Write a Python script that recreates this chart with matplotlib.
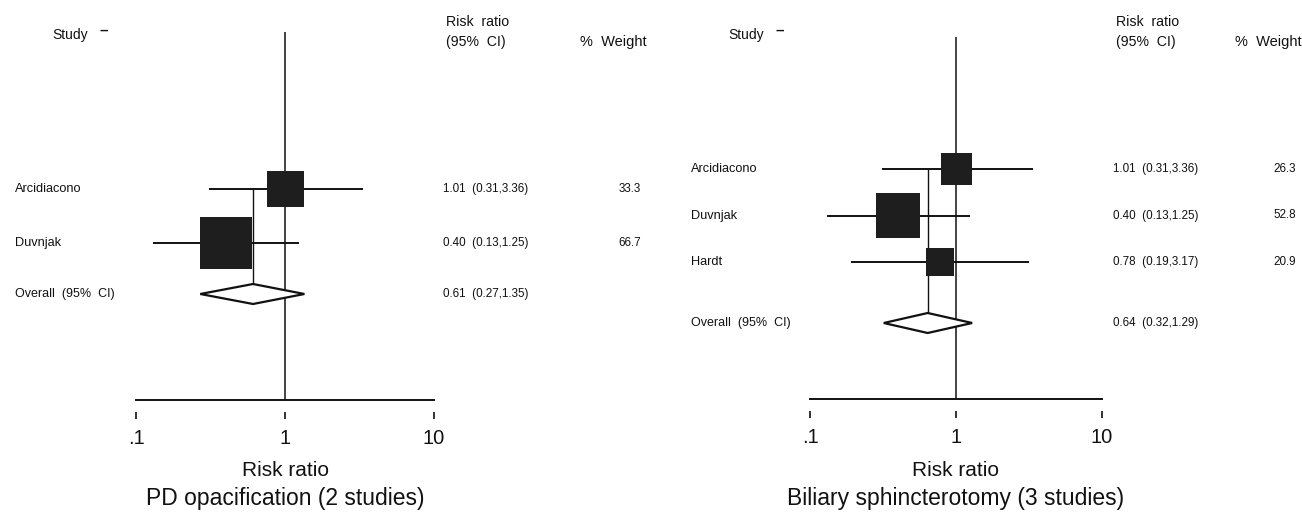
import matplotlib
matplotlib.use("Agg")
import matplotlib.pyplot as plt
from matplotlib.patches import Polygon
from matplotlib.ticker import FixedLocator, FixedFormatter, NullLocator
from matplotlib.transforms import blended_transform_factory

plt.rcParams['font.family'] = ['Liberation Sans', 'DejaVu Sans']

# --- data: PD opacification ---
pd_studies = ["Arcidiacono", "Duvnjak"]
pd_rr = [1.01, 0.40]
pd_lo = [0.31, 0.13]
pd_hi = [3.36, 1.25]
pd_weight = [33.3, 66.7]
pd_overall = [0.61, 0.27, 1.35]
pd_title = "PD opacification (2 studies)"

# --- data: biliary sphincterotomy ---
bs_studies = ["Arcidiacono", "Duvnjak", "Hardt"]
bs_rr = [1.01, 0.40, 0.78]
bs_lo = [0.31, 0.13, 0.19]
bs_hi = [3.36, 1.25, 3.17]
bs_weight = [26.3, 52.8, 20.9]
bs_overall = [0.64, 0.32, 1.29]
bs_title = "Biliary sphincterotomy (3 studies)"

tick_vals = [0.1, 1, 10]
tick_labels = [".1", "1", "10"]

W, H = 1302, 518
fig = plt.figure(figsize=(W / 100, H / 100), dpi=100)

INK = "#111111"


def forest(studies, rr, lo, hi, wt, overall, title, lay):
    # axes covers the log scale from .1 to 10, y in pixel rows (top = 0)
    x0, x1 = lay["x0"], lay["x1"]
    ay = lay["axis_y"]
    ax = fig.add_axes([x0 / W, 1 - ay / H, (x1 - x0) / W, ay / H])
    ax.set_xscale("log")
    ax.set_xlim(0.1, 10)
    ax.set_ylim(ay, 0)
    ax.patch.set_alpha(0)
    for s in ax.spines.values():
        s.set_visible(False)
    ax.spines["bottom"].set_position(("outward", 8.6))
    ax.xaxis.set_major_locator(FixedLocator(tick_vals))
    ax.xaxis.set_major_formatter(FixedFormatter(tick_labels))
    ax.xaxis.set_minor_locator(NullLocator())
    ax.tick_params(axis="x", direction="out", length=5, width=1.2,
                   pad=7, labelsize=14.5, color=INK, labelcolor=INK)
    ax.set_yticks([])

    # x axis line and line of no effect
    ax.plot([0.1, 10], [ay, ay], color=INK, lw=1.4, clip_on=False)
    ax.vlines(1, lay["ref_top"], ay, color=INK, lw=1.1)

    rows = [lay["first_row"] + i * lay["row_gap"] for i in range(len(studies))]
    oy = lay["overall_y"]

    # pooled estimate line
    ax.vlines(overall[0], rows[0], oy + lay["diam_h"] * 0.5, color=INK, lw=1.0)

    # confidence intervals and weighted boxes
    ax.hlines(rows, lo, hi, color=INK, lw=1.4)
    sides = [lay["box_k"] * w ** 0.5 * 0.72 for w in wt]
    ax.scatter(rr, rows, marker="s", s=[s ** 2 for s in sides],
               color="#1e1e1e", linewidths=0, zorder=3)

    # overall diamond
    dh = lay["diam_h"]
    diamond = Polygon([(overall[1], oy), (overall[0], oy - dh),
                       (overall[2], oy), (overall[0], oy + dh)],
                      closed=True, facecolor="white", edgecolor=INK,
                      lw=1.6, zorder=4)
    ax.add_patch(diamond)

    # text columns, x in figure pixels, y in row pixels
    tr = blended_transform_factory(fig.transFigure, ax.transData)
    fx = lambda px: px / W
    ax.text(fx(lay["name_x"] + 37), 35, "Study", transform=tr,
            fontsize=10, va="center", color=INK)
    ax.text(fx(lay["name_x"] + 85), 31, "\u2013", transform=tr,
            fontsize=11, va="center", color=INK, fontweight="bold")
    ax.text(fx(lay["est_x"] + 3), 22, "Risk  ratio", transform=tr,
            fontsize=10.2, va="center", color=INK)
    ax.text(fx(lay["est_x"] + 3), 42, "(95%  CI)", transform=tr,
            fontsize=10.2, va="center", color=INK)
    ax.text(fx(lay["wt_x"]), 42, "%  Weight", transform=tr,
            fontsize=10.5, va="center", ha="right", color=INK)

    for name, y, r, l, h, w in zip(studies, rows, rr, lo, hi, wt):
        ax.text(fx(lay["name_x"]), y, name, transform=tr,
                fontsize=9.2, va="center", color=INK)
        ax.text(fx(lay["est_x"]), y, f"{r:.2f}  ({l:.2f},{h:.2f})",
                transform=tr, fontsize=8.4, va="center", color=INK)
        ax.text(fx(lay["wt_x"] - 6), y, f"{w:.1f}", transform=tr,
                fontsize=8.4, va="center", ha="right", color=INK)

    ax.text(fx(lay["name_x"]), oy, "Overall  (95%  CI)", transform=tr,
            fontsize=9, va="center", color=INK)
    ax.text(fx(lay["est_x"]), oy,
            f"{overall[0]:.2f}  ({overall[1]:.2f},{overall[2]:.2f})",
            transform=tr, fontsize=8.4, va="center", color=INK)

    ctr = blended_transform_factory(ax.transAxes, ax.transData)
    ax.text(0.5, 470, "Risk ratio", transform=ctr,
            fontsize=15, ha="center", va="center", color=INK)
    ax.text(0.5, 498, title, transform=ctr,
            fontsize=16.5, ha="center", va="center", color=INK)


forest(pd_studies, pd_rr, pd_lo, pd_hi, pd_weight, pd_overall, pd_title,
       dict(x0=136, x1=434, axis_y=400, ref_top=32, first_row=189,
            row_gap=54, overall_y=294, diam_h=10, box_k=6.37,
            name_x=15, est_x=443, wt_x=647))

forest(bs_studies, bs_rr, bs_lo, bs_hi, bs_weight, bs_overall, bs_title,
       dict(x0=810, x1=1102, axis_y=399, ref_top=37, first_row=169,
            row_gap=46.5, overall_y=323, diam_h=10, box_k=6.1,
            name_x=691, est_x=1113, wt_x=1302))

fig.savefig("out.png", dpi=100, facecolor="white")
